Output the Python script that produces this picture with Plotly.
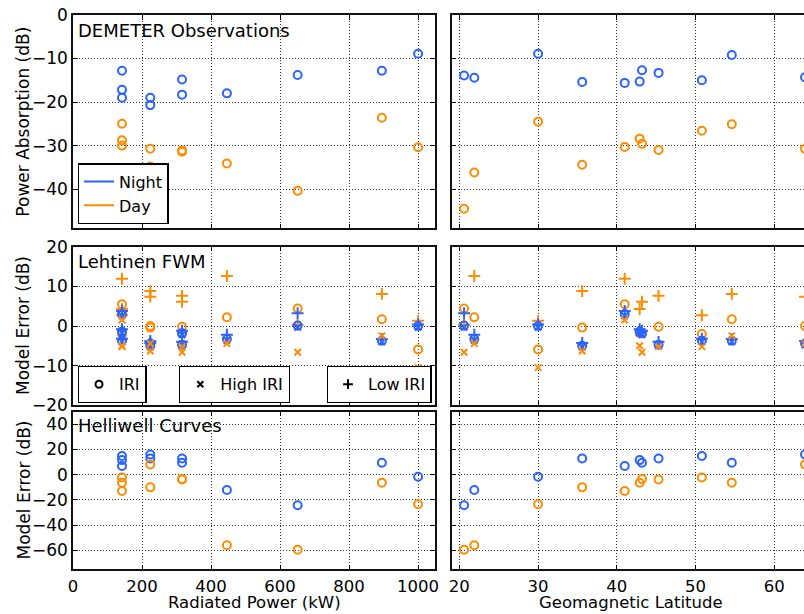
import plotly.graph_objects as go

# ---------------- data ----------------
power = [142, 142, 142, 224, 224, 316, 316, 446, 651, 895, 1000]
latitude = [41.0, 42.9, 50.8, 35.6, 63.9, 43.2, 45.3, 21.9, 20.6, 54.6, 30.0]

# DEMETER observations (dB)
obs_night_power = [-12.8, -17.2, -19.0, -19.0, -20.7, -14.8, -18.3, -18.0, -13.8, -12.8, -8.9]
obs_day_power = [-25.0, -28.8, -30.0, -30.7, -34.8, -31.1, -31.4, -34.1, -40.4, -23.6, -30.4]
obs_night_lat = [-15.6, -15.3, -15.0, -15.4, -14.3, -12.7, -13.3, -14.4, -13.9, -9.2, -8.9]
obs_day_lat = [-30.3, -28.4, -26.6, -34.4, -30.7, -29.6, -31.0, -36.2, -44.5, -25.1, -24.5]

# Lehtinen FWM model error (dB)
fwm_night_iri = [3.0, -1.4, -3.7, -5.0, -4.4, -1.8, -4.7, -3.3, 0.1, -3.7, 0.0]
fwm_night_high = [2.6, -1.8, -4.0, -5.3, -4.8, -2.2, -5.0, -3.6, -0.3, -4.0, -0.3]
fwm_night_low = [3.8, -0.8, -3.2, -4.3, -3.8, -1.2, -4.0, -2.2, 3.2, -3.3, 0.4]
fwm_day_iri = [5.5, -1.8, -2.0, -0.4, 0.0, -1.9, -0.2, 2.2, 4.4, 1.7, -5.9]
fwm_day_high = [1.5, -5.0, -5.2, -6.3, -4.4, -6.6, -5.2, -4.4, -6.6, -2.5, -10.5]
fwm_day_low = [11.9, 4.3, 2.7, 8.8, 7.4, 6.1, 7.6, 12.6, 0.3, 8.1, 1.3]

# Helliwell curves model error (dB)
hel_night = [6.9, 11.6, 14.8, 12.9, 16.1, 9.5, 12.9, -12.1, -24.2, 9.5, -1.6]
hel_day = [-12.9, -6.3, -2.1, -10.0, 8.2, -3.4, -3.7, -55.9, -59.5, -6.3, -23.4]

panel_titles = ["DEMETER Observations", "Lehtinen FWM", "Helliwell Curves"]
y_titles = ["Power Absorption (dB)", "Model Error (dB)", "Model Error (dB)"]
x_titles = ["Radiated Power (kW)", "Geomagnetic Latitude"]
power_ticks = [0, 200, 400, 600, 800, 1000]
lat_ticks = [20, 30, 40, 50, 60]
y_ticks = [[-40, -30, -20, -10, 0], [-20, -10, 0, 10, 20], [-60, -40, -20, 0, 20, 40]]
y_ranges = [[-49, 0], [-20, 20], [-75, 50]]

# ---------------- style ----------------
BLUE = "#2b63ff"
ORANGE = "#ff8c00"
FONT = "DejaVu Sans"
W, H = 804, 614

col_px = [(73, 435), (451.7, 804)]
row_px = [(15, 228.3), (246.7, 405.3), (411.7, 569.3)]
x_ranges = [[0, 1049], [19.03, 63.77]]


def px_x(v):
    return v / W


def px_y(v):
    return 1 - v / H


fig = go.Figure()


def ax_id(r, c):
    return r * 2 + c + 1


def add(r, c, x, y, color, symbol, size):
    i = ax_id(r, c)
    fig.add_trace(go.Scatter(
        x=x, y=y, mode="markers",
        marker=dict(symbol=symbol, size=size, color=color, line=dict(width=2, color=color)),
        xaxis="x" if i == 1 else f"x{i}", yaxis="y" if i == 1 else f"y{i}",
        showlegend=False, hoverinfo="skip"))


CIRC, XS, PL = "circle-open", "x-thin-open", "cross-thin-open"
CS, XSZ, PSZ = 8, 6.5, 8.5

# Row 0: observations
add(0, 0, power, obs_night_power, BLUE, CIRC, CS)
add(0, 0, power, obs_day_power, ORANGE, CIRC, CS)
add(0, 1, latitude, obs_night_lat, BLUE, CIRC, CS)
add(0, 1, latitude, obs_day_lat, ORANGE, CIRC, CS)

# Row 1: FWM
for c, xs in enumerate([power, latitude]):
    add(1, c, xs, fwm_day_iri, ORANGE, CIRC, CS)
    add(1, c, xs, fwm_day_low, ORANGE, PL, PSZ)
    add(1, c, xs, fwm_night_iri, BLUE, CIRC, CS)
    add(1, c, xs, fwm_night_high, BLUE, XS, XSZ)
    add(1, c, xs, fwm_night_low, BLUE, PL, PSZ)
    add(1, c, xs, fwm_day_high, ORANGE, XS, XSZ)

# Row 2: Helliwell
for c, xs in enumerate([power, latitude]):
    add(2, c, xs, hel_night, BLUE, CIRC, CS)
    add(2, c, xs, hel_day, ORANGE, CIRC, CS)

# Legend-only entries
fig.add_trace(go.Scatter(x=[None], y=[None], mode="lines", name="Night",
                         line=dict(color=BLUE, width=2), legend="legend"))
fig.add_trace(go.Scatter(x=[None], y=[None], mode="lines", name="Day",
                         line=dict(color=ORANGE, width=2), legend="legend"))
fig.add_trace(go.Scatter(x=[None], y=[None], mode="markers", name="IRI", legend="legend2",
                         marker=dict(symbol=CIRC, size=7, color="black", line=dict(width=2, color="black"))))
fig.add_trace(go.Scatter(x=[None], y=[None], mode="markers", name="High IRI", legend="legend3",
                         marker=dict(symbol=XS, size=6, color="black", line=dict(width=2, color="black"))))
fig.add_trace(go.Scatter(x=[None], y=[None], mode="markers", name="Low IRI", legend="legend4",
                         marker=dict(symbol=PL, size=7, color="black", line=dict(width=2, color="black"))))

layout = dict(
    autosize=True, margin=dict(l=0, r=0, t=0, b=0, autoexpand=False),
    paper_bgcolor="white", plot_bgcolor="white",
    font=dict(family=FONT, size=17, color="black"),
)

for r in range(3):
    for c in range(2):
        i = ax_id(r, c)
        xk = "xaxis" if i == 1 else f"xaxis{i}"
        yk = "yaxis" if i == 1 else f"yaxis{i}"
        common = dict(showgrid=True, gridcolor="#333", gridwidth=1, griddash="1px,2px",
                      zeroline=False, ticks="inside", ticklen=5, tickwidth=1, tickcolor="black",
                      showline=True, linecolor="#111", linewidth=1.5)
        layout[xk] = dict(
            common, domain=[px_x(col_px[c][0]), px_x(col_px[c][1])],
            range=x_ranges[c], anchor=("y" if i == 1 else f"y{i}"),
            tickvals=power_ticks if c == 0 else lat_ticks,
            tickfont=dict(size=16.5),
            showticklabels=(r == 2), mirror="ticks", ticklabelstandoff=1,
        )
        layout[yk] = dict(
            common, domain=[px_y(row_px[r][1]), px_y(row_px[r][0])],
            range=y_ranges[r], anchor=("x" if i == 1 else f"x{i}"),
            tickvals=y_ticks[r], showticklabels=(c == 0),
            mirror=("ticks" if c == 0 else False),
        )

legend_common = dict(bgcolor="white", bordercolor="black", borderwidth=1.3,
                     font=dict(family=FONT, size=16), xanchor="left", yanchor="bottom")
layout["legend"] = dict(legend_common, x=px_x(77.7), y=px_y(224.3), tracegroupgap=0)
layout["legend2"] = dict(legend_common, x=px_x(77.7), y=px_y(403))
layout["legend3"] = dict(legend_common, x=px_x(179), y=px_y(403))
layout["legend4"] = dict(legend_common, x=px_x(431.7), xanchor="right", y=px_y(403))

annotations = []
title_y = [30, 261, 425]
for r in range(3):
    annotations.append(dict(text=panel_titles[r], x=px_x(76), y=px_y(title_y[r]),
                            xref="paper", yref="paper", xanchor="left", yanchor="middle",
                            showarrow=False, font=dict(size=18)))
    annotations.append(dict(text=y_titles[r], x=px_x(23), y=px_y(sum(row_px[r]) / 2),
                            xref="paper", yref="paper", xanchor="center", yanchor="middle",
                            textangle=-90, showarrow=False, font=dict(size=17)))
x_title_cx = [254, 631]
for c in range(2):
    annotations.append(dict(text=x_titles[c], x=px_x(x_title_cx[c]), y=0,
                            xref="paper", yref="paper", xanchor="center", yanchor="bottom",
                            showarrow=False, font=dict(size=16.5)))
layout["annotations"] = annotations

fig.update_layout(**layout)
fig.write_html("out.html", config={"displayModeBar": False},
               default_width="804px",
               default_height="614px; position:absolute; left:0px; top:0px")
